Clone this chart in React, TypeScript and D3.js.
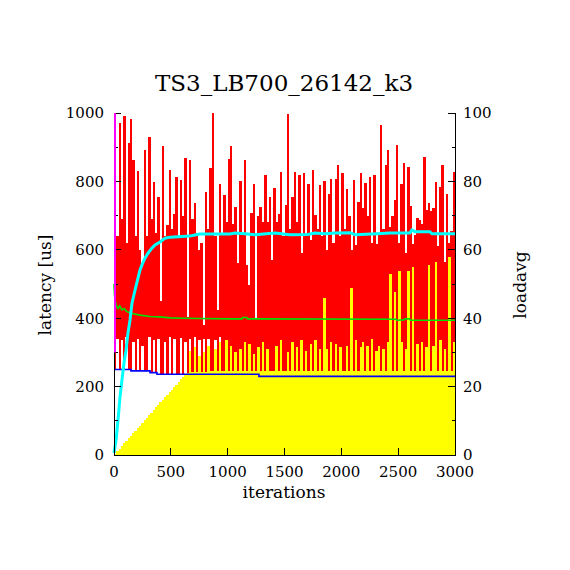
import React from "react";
import * as d3 from "d3";

// max latency per 20-iteration sample (us)
const maxLat = [
  1000, 640, 971, 690, 990, 620, 912, 982, 864, 640,
  829, 600, 560, 891, 640, 929, 690, 798, 650, 755,
  450, 903, 640, 672, 833, 660, 705, 813, 640, 804,
  700, 868, 404, 864, 690, 737, 650, 600, 620, 380,
  769, 660, 839, 1000, 640, 425, 792, 650, 760, 680,
  866, 904, 676, 725, 560, 800, 650, 863, 555, 497,
  707, 793, 400, 700, 725, 681, 818, 680, 754, 570,
  780, 680, 704, 827, 640, 730, 997, 660, 754, 827,
  680, 818, 592, 824, 640, 793, 630, 833, 702, 660,
  789, 640, 800, 600, 764, 806, 620, 806, 848, 640,
  824, 660, 778, 700, 600, 804, 614, 741, 824, 721,
  796, 700, 812, 620, 820, 617, 650, 965, 660, 848,
  891, 666, 700, 745, 906, 620, 793, 854, 592, 842,
  728, 617, 643, 694, 687, 675, 871, 716, 737, 713,
  721, 799, 611, 785, 848, 564, 764, 620, 655, 827,
];

// white (low) impulses of the first samples (us)
const lowLat = [
  250, 340, 250, 335, 250, 345, 250, 247, 330, 247,
  340, 247, 320, 247, 247, 345, 242, 335, 242, 340,
  237, 237, 330, 237, 345, 237, 338, 237, 237, 342,
  237, 330, 237, 340, 237, 345, 237, 335, 237, 338,
  237, 340, 237, 237, 335, 237, 345, 237,
];

// loadavg impulses (right axis)
const loadBar = [
  0.4, 1.1, 1.9, 2.6, 3.4, 4.1, 4.9, 5.6, 6.4, 7.1,
  7.9, 8.6, 9.4, 10.1, 10.9, 11.6, 12.4, 13.1, 13.9, 14.6,
  15.4, 16.1, 16.9, 17.6, 18.4, 19.1, 19.9, 20.6, 21.4, 22.1,
  22.9, 23.6, 24.0, 30.5, 24.3, 31.5, 24.3, 29.0, 24.4, 30.0,
  24.4, 32.0, 24.5, 24.5, 31.0, 24.5, 33.0, 24.5, 24.5, 33.5,
  24.5, 32.0, 24.5, 30.0, 24.5, 31.0, 24.5, 33.0, 24.5, 32.5,
  24.5, 29.5, 24.5, 31.5, 24.5, 33.0, 24.5, 31.0, 24.5, 24.5,
  24.5, 32.0, 24.5, 33.5, 24.5, 24.5, 30.0, 24.5, 33.0, 24.5,
  31.5, 24.5, 33.5, 24.5, 30.5, 24.5, 32.5, 24.5, 33.5, 24.5,
  31.0, 24.5, 46.0, 31.0, 24.5, 33.0, 24.5, 32.5, 24.5, 31.5,
  24.5, 24.5, 32.0, 24.5, 48.8, 24.5, 33.5, 24.5, 31.5, 33.0,
  24.5, 32.0, 24.5, 34.0, 24.5, 30.5, 32.0, 24.5, 31.0, 24.5,
  33.0, 52.9, 24.5, 47.7, 24.5, 53.8, 33.0, 24.5, 31.0, 53.8,
  24.5, 55.0, 24.5, 32.5, 24.5, 33.0, 24.5, 31.5, 55.5, 24.5,
  32.0, 56.4, 24.5, 33.5, 24.5, 31.0, 24.5, 57.9, 24.5, 33.0,
];

// min latency (blue, stepped)
const minIter = [0, 150, 317, 378, 1275, 3000];
const minLat = [250, 246, 241, 236, 230, 230];

// average latency (green)
const avgIter = [0, 4, 9, 18, 27, 35, 50, 70, 90, 110, 141, 229, 317, 405, 493, 600, 756, 1020, 1126, 1130, 1170, 1175, 2480, 2490, 2550, 2560, 2600, 2610, 3000];
const avgLat = [500, 470, 455, 440, 432, 428, 436, 424, 428, 420, 415, 409, 405, 404, 401, 400, 399, 398, 398, 402, 402, 398, 397, 394, 395, 398, 398, 394, 394];

// loadavg line (cyan, right axis)
const loadIter = [0, 18, 35, 53, 70, 88, 106, 123, 141, 158, 185, 211, 229, 246, 273, 299, 334, 361, 405, 449, 493, 668, 712, 756, 1020, 1064, 1152, 1240, 1416, 1548, 1706, 1768, 1856, 1944, 2076, 2120, 2313, 2427, 2603, 2620, 2647, 2779, 2797, 3000];
const loadVal = [0.6, 4.4, 10.2, 17.0, 21.9, 26.9, 30.7, 35.7, 39.5, 44.4, 48.2, 51.7, 54.1, 55.6, 57.6, 59.0, 60.5, 61.4, 62.3, 63.4, 63.7, 64.0, 64.3, 64.6, 64.6, 64.9, 64.7, 64.4, 64.9, 64.4, 64.5, 64.9, 64.7, 64.9, 65.0, 64.4, 64.7, 64.9, 64.9, 65.8, 65.3, 65.3, 64.7, 64.7];

// first sample spike (magenta)
const firstSample = [1000, 300];

const xTicks = [0, 500, 1000, 1500, 2000, 2500, 3000];
const yTicks = [0, 200, 400, 600, 800, 1000];
const y2Ticks = [0, 20, 40, 60, 80, 100];

const step = 20;
const font = "'DejaVu Serif', serif";

export default function App() {
  const x = d3.scaleLinear().domain([0, 3000]).range([114, 455]);
  const y = d3.scaleLinear().domain([0, 1000]).range([455, 113]);
  const y2 = d3.scaleLinear().domain([0, 100]).range([455, 113]);

  const colX = (i: number) => x(i * step);
  const colW = (i: number) => x((i + 1) * step) - x(i * step) + 0.2;

  const minLine = d3.line<number>().x((_, i) => x(minIter[i])).y(d => y(d)).curve(d3.curveStepAfter);
  const avgLine = d3.line<number>().x((_, i) => x(avgIter[i])).y(d => y(d));
  const loadLine = d3.line<number>().x((_, i) => x(loadIter[i])).y(d => y2(d));

  return (
    <svg width={570} height={570} style={{ position: "absolute", left: 0, top: 0, background: "#fff" }}>
      <g shapeRendering="crispEdges">
        {maxLat.map((v, i) => (
          <rect key={"r" + i} x={colX(i)} y={y(v)} width={colW(i)} height={y(0) - y(v)} fill="#ff0000" />
        ))}
        {lowLat.map((v, i) => (
          <rect key={"w" + i} x={colX(i)} y={y(v)} width={colW(i)} height={y(0) - y(v)} fill="#ffffff" />
        ))}
        {loadBar.map((v, i) => (
          <rect key={"y" + i} x={colX(i)} y={y2(v)} width={colW(i)} height={y2(0) - y2(v)} fill="#ffff00" />
        ))}
      </g>
      <path d={minLine(minLat) || ""} fill="none" stroke="#0000ff" strokeWidth={1.6} />
      <path d={avgLine(avgLat) || ""} fill="none" stroke="#00e000" strokeWidth={1.6} />
      <path d={loadLine(loadVal) || ""} fill="none" stroke="#00ffff" strokeWidth={3} />

      {/* border: left, bottom, right */}
      <g stroke="#000" strokeWidth={1} shapeRendering="crispEdges" fill="none">
        <path d={`M${x(0)},${y(1000)}V${y(0)}H${x(3000)}V${y(1000)}`} />
        {d3.range(0, 1001, 100).map(t => (
          <line key={"lt" + t} x1={x(0)} x2={x(0) + (t % 200 === 0 ? 7 : 3.5)} y1={y(t)} y2={y(t)} />
        ))}
        {d3.range(0, 101, 10).map(t => (
          <line key={"rt" + t} x1={x(3000)} x2={x(3000) - (t % 20 === 0 ? 7 : 3.5)} y1={y2(t)} y2={y2(t)} />
        ))}
        {xTicks.map(t => (
          <line key={"xt" + t} x1={x(t)} x2={x(t)} y1={y(0)} y2={y(0) - 7} />
        ))}
      </g>
      <line x1={x(0) + 1} x2={x(0) + 1} y1={y(firstSample[0])} y2={y(firstSample[1])} stroke="#ff00ff" strokeWidth={2} />

      <g fontFamily={font} fontSize={15} fill="#000">
        {yTicks.map(t => (
          <text key={"yl" + t} x={104} y={y(t)} dy="0.36em" textAnchor="end">{t}</text>
        ))}
        {y2Ticks.map(t => (
          <text key={"y2l" + t} x={463} y={y2(t)} dy="0.36em" textAnchor="start">{t}</text>
        ))}
        {xTicks.map(t => (
          <text key={"xl" + t} x={x(t)} y={472} dy="0.36em" textAnchor="middle">{t}</text>
        ))}
        <text x={284} y={492} dy="0.36em" textAnchor="middle" fontSize={17}>iterations</text>
        <text transform="translate(45,285) rotate(-90)" dy="0.36em" textAnchor="middle" fontSize={17}>latency [us]</text>
        <text transform="translate(520,285) rotate(-90)" dy="0.36em" textAnchor="middle" fontSize={17}>loadavg</text>
        <text x={284} y={83} dy="0.36em" textAnchor="middle" fontSize={23}>TS3_LB700_26142_k3</text>
      </g>
    </svg>
  );
}
